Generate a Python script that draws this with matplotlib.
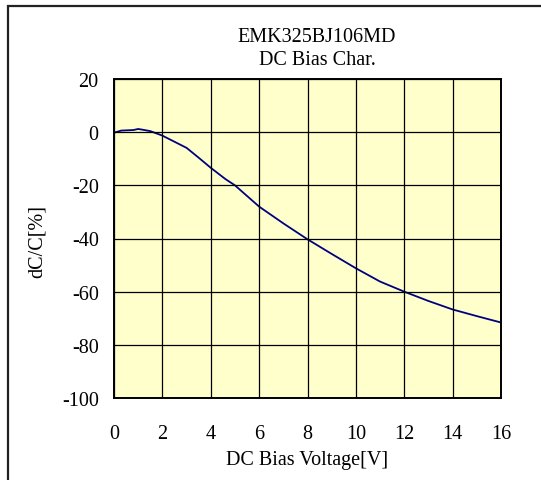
import matplotlib
matplotlib.use('Agg')
import matplotlib.pyplot as plt
from matplotlib.patches import Rectangle

# DC bias characteristic
bias_v = [0, 0.3, 0.8, 1.0, 1.2, 1.5, 2, 2.5, 3, 3.5, 4, 4.6, 5, 6, 7, 8,
          9, 10, 11, 12, 13, 14, 15, 16]
dcc_pct = [-0.2, 0.6, 0.8, 1.2, 0.9, 0.4, -1.3, -3.6, -5.9, -9.6, -13.4, -17.6,
           -20.0, -28.0, -34.3, -40.3, -45.8, -51.2, -56.2, -60.0, -63.5,
           -66.7, -69.2, -71.6]
x_ticks = [0, 2, 4, 6, 8, 10, 12, 14, 16]
y_ticks = [20, 0, -20, -40, -60, -80, -100]

plt.rcParams['font.family'] = ['Liberation Serif', 'DejaVu Serif']
plt.rcParams['axes.unicode_minus'] = False

W, H = 541, 481
FS = 14.5
fig = plt.figure(figsize=(W / 100, H / 100), dpi=100)

# outer frame, cut off at the right and bottom edges
fig.patches.append(Rectangle((8 / W, -0.2), 1.2, 1.2 - 7 / H, transform=fig.transFigure,
                             fill=False, edgecolor='#222222', lw=1.6))

ax = fig.add_axes([114 / W, 82 / H, 387 / W, 319 / H])
ax.set_facecolor('#ffffcc')
ax.plot(bias_v, dcc_pct, color='#000080', lw=1.3)
ax.set_xlim(0, 16)
ax.set_ylim(-100, 20)
ax.set_xticks(x_ticks)
ax.set_yticks(y_ticks)
ax.grid(True, color='black', lw=0.9)
ax.set_axisbelow(False)
ax.tick_params(axis='both', length=0, labelsize=FS)
ax.tick_params(axis='x', pad=19)
ax.tick_params(axis='y', pad=11)
for s in ax.spines.values():
    s.set_linewidth(1.4)

ax.set_xlabel('DC Bias Voltage[V]', fontsize=FS, labelpad=5)
fig.text(37 / W, 1 - 242 / H, 'dC/C[%]', rotation=90, fontsize=FS,
         ha='center', va='center')
fig.text(317 / W, 1 - 38 / H, 'EMK325BJ106MD', fontsize=FS, ha='center', va='center')
fig.text(317 / W, 1 - 61 / H, 'DC Bias Char.', fontsize=FS, ha='center', va='center')

fig.savefig('out.png', dpi=100)
